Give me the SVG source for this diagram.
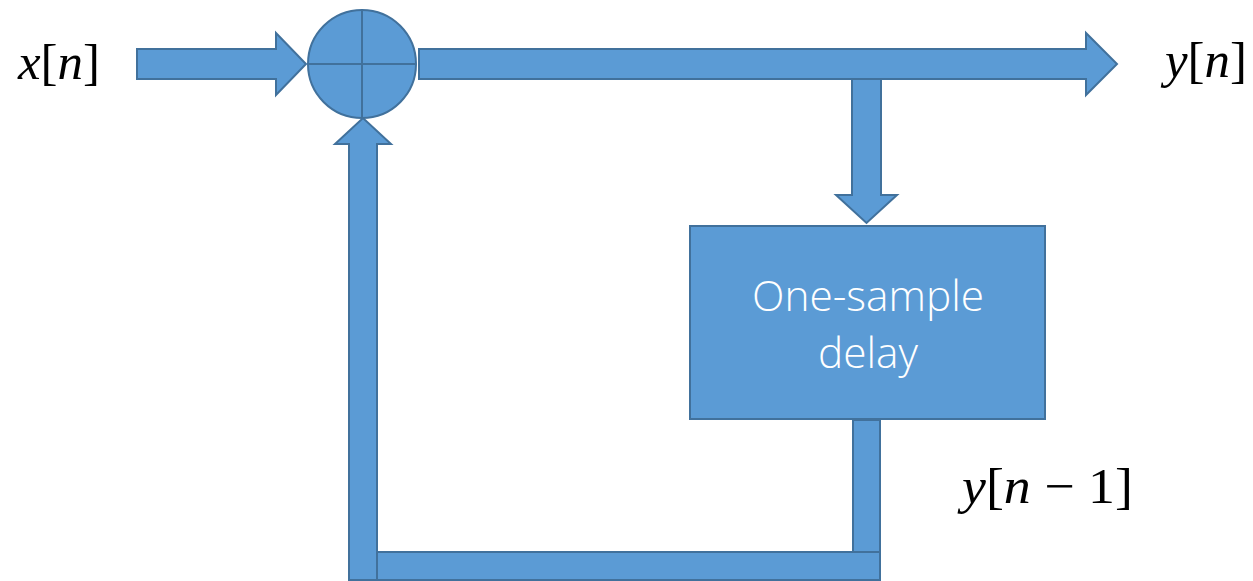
<svg xmlns="http://www.w3.org/2000/svg" width="1253" height="581" viewBox="0 0 1253 581">
<style>
.shape{fill:#5B9BD5;stroke:#41719C;stroke-width:2;stroke-linejoin:miter}
.math{font-family:"Liberation Serif","Times New Roman",serif;font-size:50px;fill:#000}
.it{font-style:italic}
.box{font-family:"Open Sans","Liberation Sans",sans-serif;font-size:42px;font-weight:300;fill:#fff;text-anchor:middle}
</style>
<rect width="1253" height="581" fill="#fff"/>
<g id="connectors">
  <polygon class="shape" points="137,49 276,49 276,33 306,64 276,95 276,79 137,79"/>
  <polygon class="shape" points="419,49 1086,49 1086,33 1117,64 1086,95 1086,79 419,79"/>
  <polygon class="shape" points="852,79 881,79 881,195 897,195 866.5,223 836,195 852,195"/>
  <rect class="shape" x="853" y="420" width="27" height="132"/>
  <rect class="shape" x="377" y="552" width="503" height="28"/>
  <polygon class="shape" points="349,580 349,144 335,144 363,118 391,144 377,144 377,580"/>
</g>
<g id="sum">
  <circle class="shape" cx="362" cy="64" r="54"/>
  <line x1="308" y1="64" x2="416" y2="64" stroke="#41719C" stroke-width="2"/>
  <line x1="362" y1="10" x2="362" y2="118" stroke="#41719C" stroke-width="2"/>
</g>
<g id="delay">
  <rect class="shape" x="690" y="226" width="355" height="193"/>
  <text class="box" x="868" y="311" textLength="232" lengthAdjust="spacingAndGlyphs">One-sample</text>
  <text class="box" x="868" y="368" textLength="100" lengthAdjust="spacingAndGlyphs">delay</text>
</g>
<g id="labels">
  <text class="math" x="18" y="79" textLength="82" lengthAdjust="spacingAndGlyphs"><tspan class="it">x</tspan>[<tspan class="it">n</tspan>]</text>
  <text class="math" x="1165" y="77" textLength="82" lengthAdjust="spacingAndGlyphs"><tspan class="it">y</tspan>[<tspan class="it">n</tspan>]</text>
  <text class="math" x="962" y="503" textLength="171" lengthAdjust="spacingAndGlyphs"><tspan class="it">y</tspan>[<tspan class="it">n</tspan> − 1]</text>
</g>
</svg>
